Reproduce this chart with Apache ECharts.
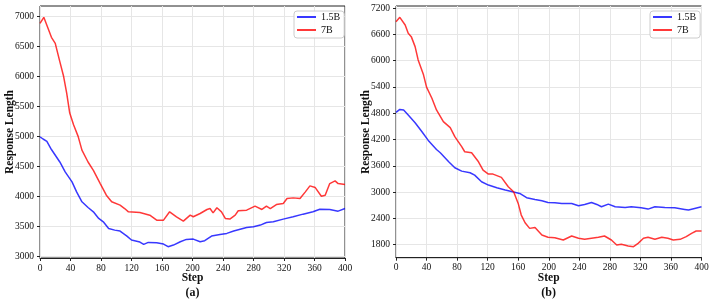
<!DOCTYPE html>
<html><head><meta charset="utf-8">
<script src="https://cdn.jsdelivr.net/npm/echarts@6/dist/echarts.min.js"></script>
<style>html,body{margin:0;padding:0;background:#fff}#c{width:713px;height:304px}</style>
</head><body><div id="c"></div>
<script>
// ---- data (step, response length) ----
const xTicks = [0,40,80,120,160,200,240,280,320,360,400];
const yTicksA = [3000,3500,4000,4500,5000,5500,6000,6500,7000];
const yTicksB = [1800,2400,3000,3600,4200,4800,5400,6000,6600,7200];

const a_15B = [[0,4990],[4,4956],[9,4917],[15,4780],[26,4572],[33,4406],[42,4239],[48,4072],[55,3906],[63,3811],[70,3739],[77,3628],[83,3572],[90,3461],[98,3433],[105,3417],[114,3333],[120,3267],[131,3233],[136,3194],[142,3228],[153,3222],[162,3200],[168,3156],[175,3183],[184,3239],[192,3278],[201,3283],[210,3239],[216,3256],[225,3333],[236,3361],[245,3378],[254,3417],[271,3478],[280,3489],[289,3517],[297,3561],[306,3572],[319,3617],[332,3656],[345,3700],[358,3739],[367,3783],[380,3778],[391,3750],[400,3794]];
const a_7B = [[0,6889],[5,6990],[15,6656],[20,6555],[26,6250],[31,6000],[35,5722],[39,5389],[44,5194],[50,5000],[55,4770],[63,4572],[70,4433],[79,4211],[87,4017],[94,3906],[105,3850],[111,3794],[116,3739],[131,3728],[144,3683],[153,3600],[162,3600],[170,3739],[179,3656],[188,3583],[197,3683],[201,3656],[210,3711],[219,3778],[223,3794],[227,3722],[232,3806],[238,3739],[243,3628],[249,3617],[256,3683],[260,3756],[271,3767],[282,3833],[291,3778],[297,3833],[302,3794],[310,3861],[319,3878],[324,3961],[332,3972],[341,3961],[348,4072],[354,4172],[361,4144],[369,4000],[374,4017],[380,4211],[387,4256],[391,4211],[400,4194]];
const b_15B = [[0,4817],[5,4885],[10,4870],[16,4756],[25,4580],[34,4375],[42,4185],[53,3972],[58,3897],[69,3691],[77,3554],[86,3478],[97,3440],[103,3387],[112,3236],[121,3160],[132,3099],[143,3046],[154,3000],[162,2970],[171,2871],[182,2832],[191,2802],[199,2764],[208,2756],[217,2741],[230,2741],[239,2688],[247,2718],[256,2764],[263,2718],[269,2665],[278,2726],[287,2665],[300,2650],[308,2665],[321,2642],[330,2612],[339,2665],[352,2650],[365,2642],[378,2604],[383,2589],[391,2627],[400,2665]];
const b_7B = [[0,6888],[5,6987],[12,6812],[16,6622],[20,6546],[25,6318],[29,6015],[36,5674],[40,5393],[47,5140],[53,4873],[62,4607],[71,4470],[77,4264],[86,4036],[90,3920],[99,3897],[108,3691],[114,3501],[121,3410],[127,3410],[138,3335],[147,3122],[154,3008],[160,2741],[164,2476],[169,2301],[175,2172],[182,2194],[191,2021],[199,1968],[208,1960],[219,1907],[230,1998],[239,1945],[247,1922],[256,1945],[265,1968],[273,1998],[282,1907],[289,1792],[295,1808],[304,1770],[311,1755],[317,1830],[324,1945],[330,1968],[339,1922],[348,1968],[356,1945],[363,1907],[372,1922],[380,1983],[387,2059],[393,2112],[400,2112]];

const FONT = 'Liberation Serif';
const GRIDC = '#e6e6e6';
const BLUE = 'rgba(0,0,255,0.78)';
const RED = 'rgba(255,0,0,0.78)';

function dataX(gridIndex) {
  return {
    type: 'value', gridIndex, min: xTicks[0], max: xTicks[xTicks.length-1], interval: 40,
    axisLine: {show: true, lineStyle: {color: '#222', width: 1}},
    axisTick: {show: true, length: 3, lineStyle: {color: '#222'}},
    axisLabel: {fontFamily: FONT, fontSize: 9.5, color: '#111', margin: 5},
    splitLine: {show: true, lineStyle: {color: GRIDC, width: 1}}
  };
}
function hiddenX(gridIndex) {
  return {type: 'value', gridIndex, min: 0, max: 400, show: false};
}
function dataY(gridIndex, min, max) {
  return {type: 'value', gridIndex, min, max, show: false, splitLine: {show: false}};
}
function tickY(gridIndex, ticks) {
  return {
    type: 'value', gridIndex, min: ticks[0], max: ticks[ticks.length-1], interval: ticks[1]-ticks[0],
    axisLine: {show: false},
    axisTick: {show: true, length: 3, lineStyle: {color: '#222'}},
    axisLabel: {fontFamily: FONT, fontSize: 9.5, color: '#111', margin: 6, formatter: v => String(v)},
    splitLine: {show: true, lineStyle: {color: GRIDC, width: 1}}
  };
}
function line(name, data, color, xi, yi) {
  return {type: 'line', name, data, xAxisIndex: xi, yAxisIndex: yi, symbol: 'none', smooth: false,
    lineStyle: {color, width: 1.5}, itemStyle: {color}, z: 3};
}
function legend(left) {
  return {
    orient: 'vertical', left, top: 11, data: ['1.5B', '7B'], icon: 'rect',
    itemWidth: 19, itemHeight: 2, itemGap: 1, padding: [0, 4, 2, 3],
    borderColor: '#cccccc', borderWidth: 1, borderRadius: 3, backgroundColor: 'rgba(255,255,255,0.85)',
    textStyle: {fontFamily: FONT, fontSize: 10, color: '#111', lineHeight: 12}
  };
}
function label(text, x, y, size, rot) {
  return {type: 'text', x, y, rotation: rot || 0, z: 10,
    style: {text, fontFamily: FONT, fontSize: size, fontWeight: 'bold', fill: '#111', align: 'center', verticalAlign: 'middle'}};
}

const chart = echarts.init(document.getElementById('c'), null, {renderer: 'canvas'});
chart.setOption({
  animation: false,
  backgroundColor: '#fff',
  textStyle: {fontFamily: FONT},
  grid: [
    {left: 40, top: 6, width: 305, height: 252, show: true, borderColor: '#222', borderWidth: 1, backgroundColor: 'transparent'},
    {left: 40, top: 16.7, width: 305, height: 239.3},
    {left: 396, top: 6, width: 305.5, height: 251.7, show: true, borderColor: '#222', borderWidth: 1, backgroundColor: 'transparent'},
    {left: 396, top: 8, width: 305.5, height: 236.7}
  ],
  xAxis: [dataX(0), hiddenX(1), dataX(2), hiddenX(3)],
  yAxis: [dataY(0, 2967, 7179), tickY(1, yTicksA), dataY(2, 1503, 7245), tickY(3, yTicksB)],
  legend: [legend(294), legend(650)],
  series: [
    line('1.5B', a_15B, BLUE, 0, 0),
    line('7B', a_7B, RED, 0, 0),
    line('1.5B', b_15B, BLUE, 2, 2),
    line('7B', b_7B, RED, 2, 2)
  ],
  graphic: [
    label('Response Length', 10, 132, 11.5, Math.PI / 2),
    label('Response Length', 366, 132, 11.5, Math.PI / 2),
    label('Step', 192.5, 278, 11.5),
    label('Step', 548.7, 278, 11.5),
    label('(a)', 192.5, 292.5, 12),
    label('(b)', 548.7, 292.5, 12)
  ]
});
</script></body></html>
